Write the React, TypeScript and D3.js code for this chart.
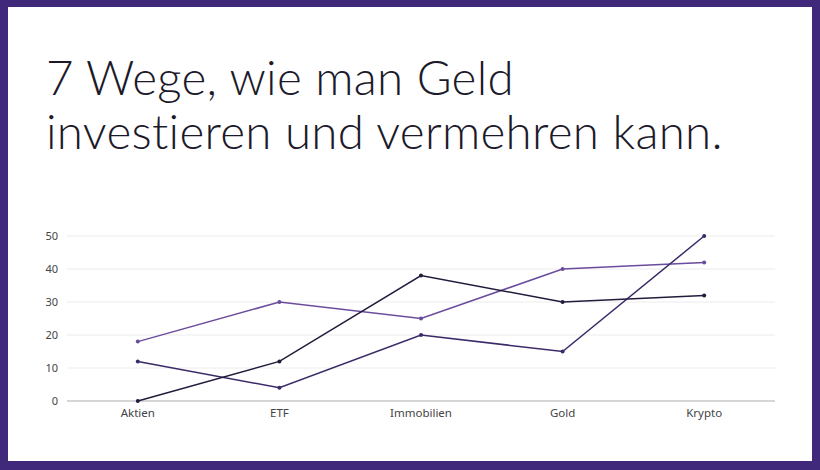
import React from "react";
import * as d3 from "d3";

const categories = ["Aktien", "ETF", "Immobilien", "Gold", "Krypto"];
const seriesA = [18, 30, 25, 40, 42];
const seriesB = [0, 12, 38, 30, 32];
const seriesC = [12, 4, 20, 15, 50];
const yTicks = [0, 10, 20, 30, 40, 50];
const titleLines = ["7 Wege, wie man Geld", "investieren und vermehren kann."];

const W = 820;
const H = 470;

export default function App() {
  const x = d3.scaleBand<string>().domain(categories).range([67, 775]);
  const y = d3.scaleLinear().domain([0, 50]).range([401, 236]);
  const cx = (c: string) => (x(c) as number) + x.bandwidth() / 2;
  const line = d3
    .line<number>()
    .x((_, i) => cx(categories[i]))
    .y((d) => y(d));

  const series = [
    { data: seriesA, color: "#6a4c9c" },
    { data: seriesC, color: "#3b2a68" },
    { data: seriesB, color: "#231a3c" },
  ];

  return (
    <svg
      width={W}
      height={H}
      style={{ position: "absolute", left: 0, top: 0, display: "block" }}
    >
      <rect x={0} y={0} width={W} height={H} fill="#40297a" />
      <rect x={8} y={7} width={804} height={454} fill="#ffffff" />
      {titleLines.map((t, i) => (
        <text
          key={i}
          x={46}
          y={95 + i * 54}
          fontFamily="Lato, 'Open Sans', sans-serif"
          fontWeight={300}
          fontSize={47.5}
          letterSpacing={0.3}
          fill="#1c1a2a"
        >
          {t}
        </text>
      ))}
      {yTicks.map((t) => (
        <g key={t}>
          <line
            x1={67}
            x2={775}
            y1={y(t)}
            y2={y(t)}
            stroke={t === 0 ? "#d6d6d6" : "#ececec"}
            strokeWidth={t === 0 ? 2 : 1}
          />
          <text
            x={58}
            y={y(t)}
            dy="0.35em"
            textAnchor="end"
            fontFamily="'Noto Sans', sans-serif"
            fontSize={11}
            fill="#444"
          >
            {t}
          </text>
        </g>
      ))}
      {categories.map((c) => (
        <text
          key={c}
          x={cx(c)}
          y={417}
          textAnchor="middle"
          fontFamily="'Noto Sans', sans-serif"
          fontSize={11.5}
          fill="#444"
        >
          {c}
        </text>
      ))}
      {series.map((s, si) => (
        <g key={si}>
          <path d={line(s.data) || ""} fill="none" stroke={s.color} strokeWidth={1.5} />
          {s.data.map((v, i) => (
            <circle key={i} cx={cx(categories[i])} cy={y(v)} r={2} fill={s.color} />
          ))}
        </g>
      ))}
    </svg>
  );
}
